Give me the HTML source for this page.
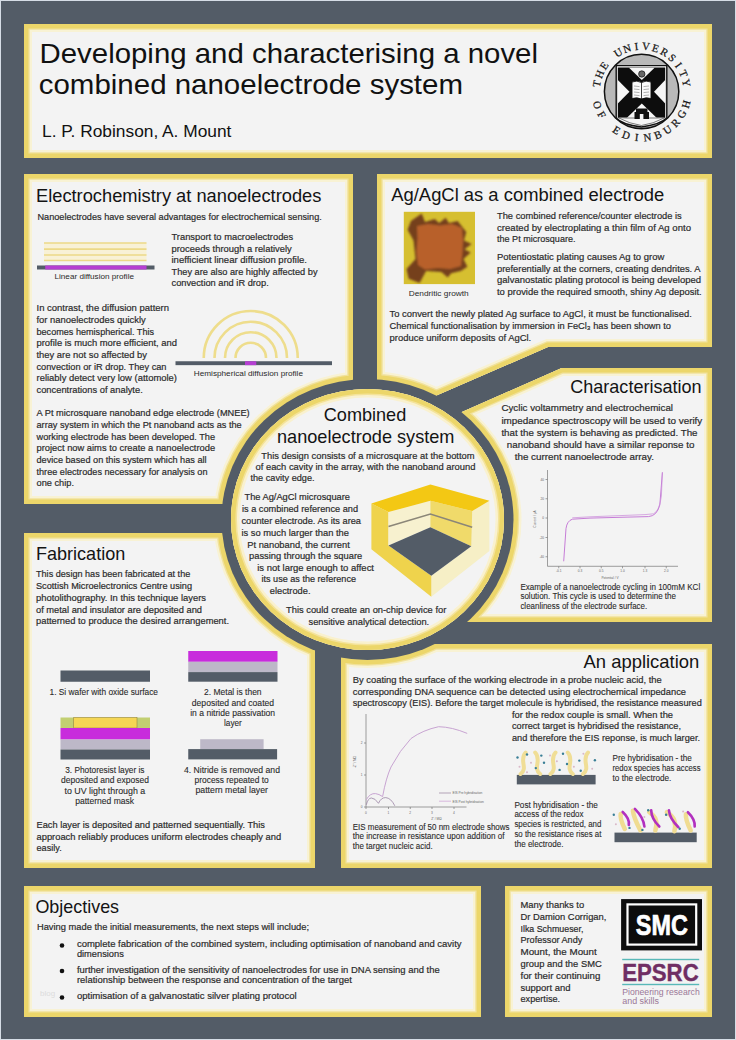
<!DOCTYPE html>
<html><head><meta charset="utf-8">
<style>
html,body{margin:0;padding:0;}
body{width:736px;height:1040px;position:relative;overflow:hidden;background:#535c67;font-family:"Liberation Sans",sans-serif;}
</style></head><body>
<svg width="736" height="1040" viewBox="0 0 736 1040" style="position:absolute;left:0;top:0">
<defs>
<mask id="em"><rect x="0" y="0" width="736" height="1040" fill="#fff"/><ellipse cx="367.5" cy="519.5" rx="146.0" ry="140.5" fill="#000"/></mask>
<clipPath id="c_title"><path d="M24,24 L712,24 L712,158 L24,158 Z"/></clipPath>
<clipPath id="c_elec"><path d="M24,174 L353,174 L353,504 L24,504 Z"/></clipPath>
<clipPath id="c_ag"><path d="M377,174 L712,174 L712,347 L548,347 L410,407 L377,407 Z"/></clipPath>
<clipPath id="c_char"><path d="M561.7,368 L712,368 L712,622 L440,622 L440,417.3 L450,417.3 Z"/></clipPath>
<clipPath id="c_fab"><path d="M24,533 L315,533 L315,868 L24,868 Z"/></clipPath>
<clipPath id="c_app"><path d="M341,644 L712,644 L712,868 L341,868 Z"/></clipPath>
<clipPath id="c_obj"><path d="M24,886 L481,886 L481,1017 L24,1017 Z"/></clipPath>
<clipPath id="c_thx"><path d="M505,886 L712,886 L712,1017 L505,1017 Z"/></clipPath>
<clipPath id="c_circ"><ellipse cx="367.5" cy="519.5" rx="136.5" ry="130.5"/></clipPath>
</defs>
<rect x="0" y="0" width="736" height="1040" fill="#d6dde6"/>
<rect x="1" y="1" width="734" height="1038" fill="#535c67"/>
<g mask="url(#em)"><g clip-path="url(#c_title)"><path d="M24,24 L712,24 L712,158 L24,158 Z M221.5,519.5 A146.0,140.5 0 1,0 513.5,519.5 A146.0,140.5 0 1,0 221.5,519.5 Z" fill-rule="evenodd" fill="#f3f3f3" stroke="#f8f2d4" stroke-width="16"/><path d="M24,24 L712,24 L712,158 L24,158 Z M221.5,519.5 A146.0,140.5 0 1,0 513.5,519.5 A146.0,140.5 0 1,0 221.5,519.5 Z" fill-rule="evenodd" fill="none" stroke="#f1e29c" stroke-width="11.5"/><path d="M24,24 L712,24 L712,158 L24,158 Z M221.5,519.5 A146.0,140.5 0 1,0 513.5,519.5 A146.0,140.5 0 1,0 221.5,519.5 Z" fill-rule="evenodd" fill="none" stroke="#ecd66a" stroke-width="8.8"/></g></g>
<g mask="url(#em)"><g clip-path="url(#c_elec)"><path d="M24,174 L353,174 L353,504 L24,504 Z M221.5,519.5 A146.0,140.5 0 1,0 513.5,519.5 A146.0,140.5 0 1,0 221.5,519.5 Z" fill-rule="evenodd" fill="#f3f3f3" stroke="#f8f2d4" stroke-width="16"/><path d="M24,174 L353,174 L353,504 L24,504 Z M221.5,519.5 A146.0,140.5 0 1,0 513.5,519.5 A146.0,140.5 0 1,0 221.5,519.5 Z" fill-rule="evenodd" fill="none" stroke="#f1e29c" stroke-width="11.5"/><path d="M24,174 L353,174 L353,504 L24,504 Z M221.5,519.5 A146.0,140.5 0 1,0 513.5,519.5 A146.0,140.5 0 1,0 221.5,519.5 Z" fill-rule="evenodd" fill="none" stroke="#ecd66a" stroke-width="8.8"/></g></g>
<g mask="url(#em)"><g clip-path="url(#c_ag)"><path d="M377,174 L712,174 L712,347 L548,347 L410,407 L377,407 Z M221.5,519.5 A146.0,140.5 0 1,0 513.5,519.5 A146.0,140.5 0 1,0 221.5,519.5 Z" fill-rule="evenodd" fill="#f3f3f3" stroke="#f8f2d4" stroke-width="16"/><path d="M377,174 L712,174 L712,347 L548,347 L410,407 L377,407 Z M221.5,519.5 A146.0,140.5 0 1,0 513.5,519.5 A146.0,140.5 0 1,0 221.5,519.5 Z" fill-rule="evenodd" fill="none" stroke="#f1e29c" stroke-width="11.5"/><path d="M377,174 L712,174 L712,347 L548,347 L410,407 L377,407 Z M221.5,519.5 A146.0,140.5 0 1,0 513.5,519.5 A146.0,140.5 0 1,0 221.5,519.5 Z" fill-rule="evenodd" fill="none" stroke="#ecd66a" stroke-width="8.8"/></g></g>
<g mask="url(#em)"><g clip-path="url(#c_char)"><path d="M561.7,368 L712,368 L712,622 L440,622 L440,417.3 L450,417.3 Z M221.5,519.5 A146.0,140.5 0 1,0 513.5,519.5 A146.0,140.5 0 1,0 221.5,519.5 Z" fill-rule="evenodd" fill="#f3f3f3" stroke="#f8f2d4" stroke-width="16"/><path d="M561.7,368 L712,368 L712,622 L440,622 L440,417.3 L450,417.3 Z M221.5,519.5 A146.0,140.5 0 1,0 513.5,519.5 A146.0,140.5 0 1,0 221.5,519.5 Z" fill-rule="evenodd" fill="none" stroke="#f1e29c" stroke-width="11.5"/><path d="M561.7,368 L712,368 L712,622 L440,622 L440,417.3 L450,417.3 Z M221.5,519.5 A146.0,140.5 0 1,0 513.5,519.5 A146.0,140.5 0 1,0 221.5,519.5 Z" fill-rule="evenodd" fill="none" stroke="#ecd66a" stroke-width="8.8"/></g></g>
<g mask="url(#em)"><g clip-path="url(#c_fab)"><path d="M24,533 L315,533 L315,868 L24,868 Z M221.5,519.5 A146.0,140.5 0 1,0 513.5,519.5 A146.0,140.5 0 1,0 221.5,519.5 Z" fill-rule="evenodd" fill="#f3f3f3" stroke="#f8f2d4" stroke-width="16"/><path d="M24,533 L315,533 L315,868 L24,868 Z M221.5,519.5 A146.0,140.5 0 1,0 513.5,519.5 A146.0,140.5 0 1,0 221.5,519.5 Z" fill-rule="evenodd" fill="none" stroke="#f1e29c" stroke-width="11.5"/><path d="M24,533 L315,533 L315,868 L24,868 Z M221.5,519.5 A146.0,140.5 0 1,0 513.5,519.5 A146.0,140.5 0 1,0 221.5,519.5 Z" fill-rule="evenodd" fill="none" stroke="#ecd66a" stroke-width="8.8"/></g></g>
<g mask="url(#em)"><g clip-path="url(#c_app)"><path d="M341,644 L712,644 L712,868 L341,868 Z M221.5,519.5 A146.0,140.5 0 1,0 513.5,519.5 A146.0,140.5 0 1,0 221.5,519.5 Z" fill-rule="evenodd" fill="#f3f3f3" stroke="#f8f2d4" stroke-width="16"/><path d="M341,644 L712,644 L712,868 L341,868 Z M221.5,519.5 A146.0,140.5 0 1,0 513.5,519.5 A146.0,140.5 0 1,0 221.5,519.5 Z" fill-rule="evenodd" fill="none" stroke="#f1e29c" stroke-width="11.5"/><path d="M341,644 L712,644 L712,868 L341,868 Z M221.5,519.5 A146.0,140.5 0 1,0 513.5,519.5 A146.0,140.5 0 1,0 221.5,519.5 Z" fill-rule="evenodd" fill="none" stroke="#ecd66a" stroke-width="8.8"/></g></g>
<g mask="url(#em)"><g clip-path="url(#c_obj)"><path d="M24,886 L481,886 L481,1017 L24,1017 Z M221.5,519.5 A146.0,140.5 0 1,0 513.5,519.5 A146.0,140.5 0 1,0 221.5,519.5 Z" fill-rule="evenodd" fill="#f3f3f3" stroke="#f8f2d4" stroke-width="16"/><path d="M24,886 L481,886 L481,1017 L24,1017 Z M221.5,519.5 A146.0,140.5 0 1,0 513.5,519.5 A146.0,140.5 0 1,0 221.5,519.5 Z" fill-rule="evenodd" fill="none" stroke="#f1e29c" stroke-width="11.5"/><path d="M24,886 L481,886 L481,1017 L24,1017 Z M221.5,519.5 A146.0,140.5 0 1,0 513.5,519.5 A146.0,140.5 0 1,0 221.5,519.5 Z" fill-rule="evenodd" fill="none" stroke="#ecd66a" stroke-width="8.8"/></g></g>
<g mask="url(#em)"><g clip-path="url(#c_thx)"><path d="M505,886 L712,886 L712,1017 L505,1017 Z M221.5,519.5 A146.0,140.5 0 1,0 513.5,519.5 A146.0,140.5 0 1,0 221.5,519.5 Z" fill-rule="evenodd" fill="#f3f3f3" stroke="#f8f2d4" stroke-width="16"/><path d="M505,886 L712,886 L712,1017 L505,1017 Z M221.5,519.5 A146.0,140.5 0 1,0 513.5,519.5 A146.0,140.5 0 1,0 221.5,519.5 Z" fill-rule="evenodd" fill="none" stroke="#f1e29c" stroke-width="11.5"/><path d="M505,886 L712,886 L712,1017 L505,1017 Z M221.5,519.5 A146.0,140.5 0 1,0 513.5,519.5 A146.0,140.5 0 1,0 221.5,519.5 Z" fill-rule="evenodd" fill="none" stroke="#ecd66a" stroke-width="8.8"/></g></g>
<g clip-path="url(#c_circ)"><ellipse cx="367.5" cy="519.5" rx="136.5" ry="130.5" fill="#f3f3f3" stroke="#f9f1cf" stroke-width="17"/><ellipse cx="367.5" cy="519.5" rx="136.5" ry="130.5" fill="none" stroke="#f4e39a" stroke-width="12"/><ellipse cx="367.5" cy="519.5" rx="136.5" ry="130.5" fill="none" stroke="#ecd66a" stroke-width="8.8"/></g>
<rect x="44" y="243" width="102.5" height="17.5" fill="#f8f1d6"/>
<line x1="44" y1="243" x2="146.5" y2="243" stroke="#ecd987" stroke-width="1.7"/>
<line x1="44" y1="249.2" x2="146.5" y2="249.2" stroke="#ecd987" stroke-width="1.7"/>
<line x1="44" y1="255" x2="146.5" y2="255" stroke="#ecd987" stroke-width="1.7"/>
<line x1="44" y1="260.5" x2="146.5" y2="260.5" stroke="#ecd987" stroke-width="1.7"/>
<rect x="37" y="265.5" width="117.5" height="4" fill="#535c67"/>
<rect x="45.25" y="265.5" width="101.25" height="4" fill="#b53fd2"/>
<path d="M203.75,358 A47,47 0 0,1 297.75,358" fill="none" stroke="#eedd8c" stroke-width="2.6"/>
<path d="M214.5,358 A36.25,36.25 0 0,1 287.0,358" fill="none" stroke="#eedd8c" stroke-width="2.6"/>
<path d="M225.0,358 A25.75,25.75 0 0,1 276.5,358" fill="none" stroke="#eedd8c" stroke-width="2.6"/>
<path d="M235.5,358 A15.25,15.25 0 0,1 266.0,358" fill="none" stroke="#eedd8c" stroke-width="2.6"/>
<rect x="175.5" y="361.25" width="156.5" height="3.9" fill="#535c67"/>
<rect x="245" y="361.25" width="11.25" height="3.9" fill="#b53fd2"/>
<defs><filter id="bl" x="-5%" y="-5%" width="110%" height="110%"><feGaussianBlur stdDeviation="0.9"/></filter><clipPath id="dimg"><rect x="403.8" y="211.8" width="71.2" height="72.3"/></clipPath></defs>
<rect x="403.8" y="211.8" width="71.2" height="72.3" fill="#d6bf30"/>
<g clip-path="url(#dimg)"><g filter="url(#bl)">
<polygon points="410.9,221 421.7,213.4 425,222 434.8,219 439.1,223 445.7,217.8 448.9,223 457.6,221 466.3,231.9 464,240.6 471.7,243.9 464.5,249.3 470.7,252.6 463.5,259.1 467.4,266.7 460.9,271 451.1,273.2 447.8,277.6 441.3,272.1 426.1,271 419.6,283 408.7,278.7 406.5,268.9 415.5,259.1 413.5,240.6 407.6,229.7" fill="#74401e"/>
<polygon points="417,226 428,224 440,225.5 452,224 462,228 463,240 462.5,252 461,266 450,269 438,268 425,269.5 418,265 416.5,252 417.5,238" fill="#b8602c"/>
</g></g>
<g stroke="#777" stroke-width="0.7" fill="none">
<line x1="547.5" y1="470" x2="547.5" y2="566.3"/><line x1="547.5" y1="566.3" x2="678" y2="566.3"/>
<line x1="545.5" y1="479.5" x2="547.5" y2="479.5"/>
<line x1="545.5" y1="498.75" x2="547.5" y2="498.75"/>
<line x1="545.5" y1="518" x2="547.5" y2="518"/>
<line x1="545.5" y1="537.5" x2="547.5" y2="537.5"/>
<line x1="545.5" y1="556.75" x2="547.5" y2="556.75"/>
<line x1="558.75" y1="566.3" x2="558.75" y2="568.3"/>
<line x1="580" y1="566.3" x2="580" y2="568.3"/>
<line x1="601.25" y1="566.3" x2="601.25" y2="568.3"/>
<line x1="622.5" y1="566.3" x2="622.5" y2="568.3"/>
<line x1="645" y1="566.3" x2="645" y2="568.3"/>
<line x1="666.25" y1="566.3" x2="666.25" y2="568.3"/>
</g>
<g font-family="Liberation Sans" font-size="3.2" fill="#666">
<text x="544" y="480.5" text-anchor="end">40</text>
<text x="544" y="499.75" text-anchor="end">20</text>
<text x="544" y="519" text-anchor="end">0</text>
<text x="544" y="538.5" text-anchor="end">-20</text>
<text x="544" y="557.75" text-anchor="end">-40</text>
<text x="558.75" y="572" text-anchor="middle">-0.1</text>
<text x="580" y="572" text-anchor="middle">0.3</text>
<text x="601.25" y="572" text-anchor="middle">0.5</text>
<text x="622.5" y="572" text-anchor="middle">1.0</text>
<text x="645" y="572" text-anchor="middle">1.3</text>
<text x="666.25" y="572" text-anchor="middle">2.0</text>
<text x="610" y="579" text-anchor="middle">Potential / V</text>
<text transform="translate(536,519) rotate(-90)" text-anchor="middle">Current / µA</text>
</g>
<path d="M563.7,561.3 L566,528.5 Q567,521 572.3,519.2 L590,518.1 L620,517.3 L648.5,516.6 Q657,516 659.8,505 L662.4,472.3" fill="none" stroke="#c16fd4" stroke-width="0.9"/>
<path d="M662.4,472.3 L661.4,496 Q659.5,511 653.5,513.8 L645,514.6 L620,515.6 L590,516.8 L572.3,517.8" fill="none" stroke="#c98ad8" stroke-width="0.7"/>
<polygon points="472.2,511.1 489.4,500.7 489.4,551 431.3,596.7 431.3,575.8 471.3,546.3" fill="#f6efc6"/>
<polygon points="371.4,503.5 388.5,512.1 388.5,545.4 431.3,575.8 431.3,596.7 371.4,549.2" fill="#efd34c"/>
<polygon points="388.5,512.1 430.4,500.7 430.4,527.3 388.5,545.4" fill="#f7f1cf"/>
<polygon points="430.4,500.7 472.2,511.1 471.3,546.3 430.4,527.3" fill="#f0da6a"/>
<polygon points="388.5,545.4 430.4,527.3 471.3,546.3 431.3,575.8" fill="#535c67"/>
<polygon points="371.4,503.5 430.4,484.5 489.4,500.7 472.2,511.1 430.4,500.7 388.5,512.1" fill="#f3c814"/>
<polyline points="388.5,526.4 430.4,514 472.2,527.3" fill="none" stroke="#8b8678" stroke-width="1.6"/>
<rect x="60.5" y="670.5" width="89.5" height="11.25" fill="#535c67"/>
<rect x="188.25" y="651" width="89.25" height="10.8" fill="#c82cdc"/>
<rect x="188.25" y="661.8" width="89.25" height="10.3" fill="#bdb8c8"/>
<rect x="188.25" y="672.1" width="89.25" height="9.6" fill="#535c67"/>
<rect x="60.5" y="717.5" width="89.5" height="10.5" fill="#c2cf72"/>
<rect x="73.75" y="717.5" width="63.25" height="10.5" fill="#f5d655" stroke="#8a7a3a" stroke-width="0.5"/>
<rect x="60.5" y="728" width="89.5" height="11.5" fill="#c82cdc"/>
<rect x="60.5" y="739.5" width="89.5" height="10" fill="#bdb8c8"/>
<rect x="60.5" y="749.5" width="89.5" height="10" fill="#535c67"/>
<rect x="200.2" y="739.2" width="63.4" height="9.9" fill="#bdb8c8"/>
<rect x="188.25" y="749.1" width="88.85" height="10.3" fill="#535c67"/>
<g stroke="#777" stroke-width="0.7" fill="none">
<line x1="366" y1="714" x2="366" y2="807"/><line x1="366" y1="807" x2="466.5" y2="807"/>
<line x1="364" y1="743" x2="366" y2="743"/>
<line x1="364" y1="775" x2="366" y2="775"/>
<line x1="364" y1="807" x2="366" y2="807"/>
<line x1="366" y1="807" x2="366" y2="809"/>
<line x1="388.5" y1="807" x2="388.5" y2="809"/>
<line x1="410.25" y1="807" x2="410.25" y2="809"/>
<line x1="432" y1="807" x2="432" y2="809"/>
<line x1="454" y1="807" x2="454" y2="809"/>
</g>
<g font-family="Liberation Sans" font-size="3.2" fill="#666">
<text x="362.5" y="744" text-anchor="end">2</text>
<text x="362.5" y="776" text-anchor="end">1</text>
<text x="362.5" y="808" text-anchor="end">0</text>
<text x="366" y="813.5" text-anchor="middle">0</text>
<text x="388.5" y="813.5" text-anchor="middle">1</text>
<text x="410.25" y="813.5" text-anchor="middle">2</text>
<text x="432" y="813.5" text-anchor="middle">3</text>
<text x="454" y="813.5" text-anchor="middle">4</text>
<text x="436.5" y="820" text-anchor="middle">Z' / MΩ</text>
<text transform="translate(356,762) rotate(-90)" text-anchor="middle">-Z'' / MΩ</text>
<text x="452.5" y="794.3">EIS Pre hybridisation</text>
<text x="452.5" y="802.5">EIS Post hybridisation</text>
</g>
<line x1="439" y1="793" x2="451" y2="793" stroke="#8a7090" stroke-width="0.6"/>
<line x1="439" y1="801.2" x2="451" y2="801.2" stroke="#d0a8d8" stroke-width="0.8"/>
<path d="M366.3,799.7 Q370,793 375.5,793.6 Q379,794 382.6,796.6 Q386,778 391,767 Q400,750 411,738.5 Q423,730 438.6,726.7 Q452,727 467.2,733.4" fill="none" stroke="#c8a4d2" stroke-width="1"/>
<path d="M366.3,804.8 Q368,798 371.4,798 Q375,798 378.5,803.3 Q381,797.5 385.7,797.6 Q391,798 394.8,805.8" fill="none" stroke="#9a84a4" stroke-width="0.8"/>
<rect x="516.8" y="774.9" width="78.8" height="9.5" fill="#535c67"/>
<rect x="614.5" y="832.6" width="82.2" height="9.6" fill="#535c67"/>
<path d="M520.6,774 C528.6,768 518.6,760 525.6,752.5" fill="none" stroke="#f0de96" stroke-width="4" stroke-linecap="round"/>
<path d="M540.2,774 C532.2,768 542.2,760 535.2,752.5" fill="none" stroke="#f0de96" stroke-width="4" stroke-linecap="round"/>
<path d="M550.5,774 C558.5,768 548.5,760 555.5,752.5" fill="none" stroke="#f0de96" stroke-width="4" stroke-linecap="round"/>
<path d="M572.8,774 C564.8,768 574.8,760 567.8,752.5" fill="none" stroke="#f0de96" stroke-width="4" stroke-linecap="round"/>
<path d="M583,774 C591,768 581,760 588,752.5" fill="none" stroke="#f0de96" stroke-width="4" stroke-linecap="round"/>
<circle cx="517.5" cy="757.5" r="1.2" fill="#3a7f96"/>
<circle cx="527" cy="754.5" r="1.2" fill="#3a7f96"/>
<circle cx="541.3" cy="755.6" r="1.2" fill="#3a7f96"/>
<circle cx="544" cy="762.7" r="1.2" fill="#3a7f96"/>
<circle cx="535.8" cy="768.1" r="1.2" fill="#3a7f96"/>
<circle cx="563" cy="753.8" r="1.2" fill="#3a7f96"/>
<circle cx="567" cy="764" r="1.2" fill="#3a7f96"/>
<circle cx="559.6" cy="769.9" r="1.2" fill="#3a7f96"/>
<circle cx="579.3" cy="760.6" r="1.2" fill="#3a7f96"/>
<circle cx="580.7" cy="770.8" r="1.2" fill="#3a7f96"/>
<circle cx="594.9" cy="760.2" r="1.2" fill="#3a7f96"/>
<circle cx="550" cy="755.6" r="1" fill="#d9b8c8"/>
<circle cx="556.9" cy="761.3" r="1" fill="#d9b8c8"/>
<circle cx="531" cy="762.7" r="1" fill="#d9b8c8"/>
<circle cx="583.4" cy="753.8" r="1" fill="#d9b8c8"/>
<circle cx="592.2" cy="768.8" r="1" fill="#d9b8c8"/>
<circle cx="519.5" cy="766.7" r="1" fill="#d9b8c8"/>
<circle cx="527" cy="772.2" r="1" fill="#d9b8c8"/>
<circle cx="573.9" cy="766.7" r="1" fill="#d9b8c8"/>
<path d="M620.7,814 Q619.75,818.5 624.8,829" fill="none" stroke="#f0dc92" stroke-width="4.5" stroke-linecap="round"/>
<path d="M622.7,812 Q629.75,818.5 628.8,825" fill="none" stroke="#b230bf" stroke-width="2.6" stroke-linecap="round"/>
<path d="M632.9,810.8 Q633.65,817.65 640.4,830.5" fill="none" stroke="#f0dc92" stroke-width="4.5" stroke-linecap="round"/>
<path d="M634.9,808.8 Q643.65,817.65 644.4,826.5" fill="none" stroke="#b230bf" stroke-width="2.6" stroke-linecap="round"/>
<path d="M649.2,812.2 Q659.25,818.35 655.3,830.5" fill="none" stroke="#f0dc92" stroke-width="4.5" stroke-linecap="round"/>
<path d="M651.2,810.2 Q651.25,818.35 659.3,826.5" fill="none" stroke="#b230bf" stroke-width="2.6" stroke-linecap="round"/>
<path d="M666.9,812.2 Q677.65,818.7 674.4,831.2" fill="none" stroke="#f0dc92" stroke-width="4.5" stroke-linecap="round"/>
<path d="M668.9,810.2 Q669.65,818.7 678.4,827.2" fill="none" stroke="#b230bf" stroke-width="2.6" stroke-linecap="round"/>
<path d="M685.9,814.2 Q685.3,819.35 690.7,830.5" fill="none" stroke="#f0dc92" stroke-width="4.5" stroke-linecap="round"/>
<path d="M687.9,812.2 Q695.3,819.35 694.7,826.5" fill="none" stroke="#b230bf" stroke-width="2.6" stroke-linecap="round"/>
<circle cx="613.8" cy="814.7" r="1.2" fill="#3a7f96"/>
<circle cx="629.5" cy="827.9" r="1.2" fill="#3a7f96"/>
<circle cx="642.4" cy="829.9" r="1.2" fill="#3a7f96"/>
<circle cx="648.2" cy="810.2" r="1.2" fill="#3a7f96"/>
<circle cx="666.1" cy="814.7" r="1.2" fill="#3a7f96"/>
<circle cx="679.7" cy="828.8" r="1.2" fill="#3a7f96"/>
<circle cx="615.9" cy="824.2" r="1" fill="#d9b8c8"/>
<circle cx="644.4" cy="817" r="1" fill="#d9b8c8"/>
<circle cx="683.1" cy="811.5" r="1" fill="#d9b8c8"/>
<circle cx="62" cy="945.5" r="2.3" fill="#111"/>
<circle cx="62" cy="971" r="2.3" fill="#111"/>
<circle cx="62" cy="997.5" r="2.3" fill="#111"/>
<rect x="621.1" y="899.1" width="80.9" height="51.3" fill="#0c0c0c"/>
<rect x="627.5" y="904.4" width="68.7" height="40.2" fill="none" stroke="#fff" stroke-width="2.2"/>
<text x="661.8" y="935.1" text-anchor="middle" font-family="Liberation Sans" font-weight="bold" font-size="30" fill="#fff" stroke="#fff" stroke-width="0.7" textLength="52" lengthAdjust="spacingAndGlyphs">SMC</text>
<rect x="622.2" y="958.8" width="77" height="1.4" fill="#58b8b8"/>
<rect x="622.2" y="983.8" width="77" height="1.4" fill="#58b8b8"/>
<text x="622.2" y="980.8" font-family="Liberation Sans" font-weight="bold" font-size="23.5" fill="#6f2e63" stroke="#6f2e63" stroke-width="0.4" textLength="76.5" lengthAdjust="spacingAndGlyphs">EPSRC</text>
<text x="622.2" y="994.7" font-family="Liberation Sans" font-size="9.6" fill="#9b7898" textLength="77.6" lengthAdjust="spacingAndGlyphs">Pioneering research</text>
<text x="622.2" y="1003.9" font-family="Liberation Sans" font-size="9.6" fill="#9b7898" textLength="36.8" lengthAdjust="spacingAndGlyphs">and skills</text>
<circle cx="641.6" cy="91.5" r="37.2" fill="#b9b9b9" stroke="#111" stroke-width="1.5"/>
<path d="M616.2,65.6 L666.8,65.6 L666.8,118 Q660,124.5 641.4,127 Q622,124.5 616.2,118 Z" fill="#fbfbfb" stroke="#111" stroke-width="1.4"/>
<path d="M617.8,67.6 L665.2,67.6 L665.2,117.5 L617.8,117.5 Z" fill="#0d0d0d"/>
<polygon points="629,67.8 654.6,67.8 641.8,80.1" fill="#f6f6f6"/>
<polygon points="617.8,80.1 617.8,103.5 629.5,91.8" fill="#f6f6f6"/>
<polygon points="665.2,80.1 665.2,103.5 654,91.8" fill="#f6f6f6"/>
<polygon points="626.7,118 656.8,118 641.8,103.5" fill="#f6f6f6"/>
<path d="M617.8,117.5 Q630,124 641.4,125.5 Q653,124 665.2,117.5 L656.8,118 L626.7,118 Z" fill="#f6f6f6" stroke="#222" stroke-width="0.6"/>
<circle cx="641.8" cy="74" r="3.2" fill="#666" stroke="#111" stroke-width="0.7"/>
<path d="M632,82 Q637,80 641.5,82.5 Q646,80 651,82 L651,98.5 Q646,97 641.5,99 Q637,97 632,98.5 Z" fill="#fafafa" stroke="#111" stroke-width="0.9"/>
<line x1="641.5" y1="82.5" x2="641.5" y2="99" stroke="#111" stroke-width="0.8"/>
<line x1="634" y1="86" x2="639.5" y2="86.6" stroke="#666" stroke-width="0.5"/><line x1="643.5" y1="86.6" x2="649" y2="86" stroke="#666" stroke-width="0.5"/>
<line x1="634" y1="89" x2="639.5" y2="89.6" stroke="#666" stroke-width="0.5"/><line x1="643.5" y1="89.6" x2="649" y2="89" stroke="#666" stroke-width="0.5"/>
<line x1="634" y1="92" x2="639.5" y2="92.6" stroke="#666" stroke-width="0.5"/><line x1="643.5" y1="92.6" x2="649" y2="92" stroke="#666" stroke-width="0.5"/>
<line x1="634" y1="95" x2="639.5" y2="95.6" stroke="#666" stroke-width="0.5"/><line x1="643.5" y1="95.6" x2="649" y2="95" stroke="#666" stroke-width="0.5"/>
<path d="M634.5,119 L634.5,112 L636,112 L636,108.5 L647.5,108.5 L647.5,112 L649,112 L649,119 Z" fill="#111"/>
<rect x="639.8" y="114" width="3.6" height="5" fill="#f6f6f6"/>
<g font-family="Liberation Serif" font-size="10.8" fill="#151515" stroke="#151515" stroke-width="0.25">
<text x="0" y="0" transform="translate(596.50,83.55) rotate(-80.0)" text-anchor="middle" dominant-baseline="central">T</text>
<text x="0" y="0" transform="translate(599.20,74.17) rotate(-67.8)" text-anchor="middle" dominant-baseline="central">H</text>
<text x="0" y="0" transform="translate(603.84,65.58) rotate(-55.5)" text-anchor="middle" dominant-baseline="central">E</text>
<text x="0" y="0" transform="translate(617.96,52.27) rotate(-31.1)" text-anchor="middle" dominant-baseline="central">U</text>
<text x="0" y="0" transform="translate(626.81,48.16) rotate(-18.8)" text-anchor="middle" dominant-baseline="central">N</text>
<text x="0" y="0" transform="translate(636.32,46.00) rotate(-6.6)" text-anchor="middle" dominant-baseline="central">I</text>
<text x="0" y="0" transform="translate(646.08,45.92) rotate(5.6)" text-anchor="middle" dominant-baseline="central">V</text>
<text x="0" y="0" transform="translate(655.64,47.90) rotate(17.8)" text-anchor="middle" dominant-baseline="central">E</text>
<text x="0" y="0" transform="translate(664.55,51.87) rotate(30.1)" text-anchor="middle" dominant-baseline="central">R</text>
<text x="0" y="0" transform="translate(672.43,57.63) rotate(42.3)" text-anchor="middle" dominant-baseline="central">S</text>
<text x="0" y="0" transform="translate(678.90,64.93) rotate(54.5)" text-anchor="middle" dominant-baseline="central">I</text>
<text x="0" y="0" transform="translate(683.69,73.43) rotate(66.8)" text-anchor="middle" dominant-baseline="central">T</text>
<text x="0" y="0" transform="translate(686.56,82.76) rotate(79.0)" text-anchor="middle" dominant-baseline="central">Y</text>
<text x="0" y="0" transform="translate(597.80,104.89) rotate(433.0)" text-anchor="middle" dominant-baseline="central">O</text>
<text x="0" y="0" transform="translate(602.08,114.65) rotate(419.6)" text-anchor="middle" dominant-baseline="central">F</text>
<text x="0" y="0" transform="translate(616.72,129.95) rotate(392.9)" text-anchor="middle" dominant-baseline="central">E</text>
<text x="0" y="0" transform="translate(626.28,134.66) rotate(379.5)" text-anchor="middle" dominant-baseline="central">D</text>
<text x="0" y="0" transform="translate(636.67,137.03) rotate(366.2)" text-anchor="middle" dominant-baseline="central">I</text>
<text x="0" y="0" transform="translate(647.33,136.94) rotate(352.8)" text-anchor="middle" dominant-baseline="central">N</text>
<text x="0" y="0" transform="translate(657.67,134.39) rotate(339.5)" text-anchor="middle" dominant-baseline="central">B</text>
<text x="0" y="0" transform="translate(667.15,129.51) rotate(326.1)" text-anchor="middle" dominant-baseline="central">U</text>
<text x="0" y="0" transform="translate(675.24,122.58) rotate(312.7)" text-anchor="middle" dominant-baseline="central">R</text>
<text x="0" y="0" transform="translate(681.52,113.96) rotate(299.4)" text-anchor="middle" dominant-baseline="central">G</text>
<text x="0" y="0" transform="translate(685.63,104.12) rotate(286.0)" text-anchor="middle" dominant-baseline="central">H</text>
</g>
<g font-family="Liberation Sans">
<text x="39.5" y="63.25" font-size="28" fill="#111" textLength="498.50" lengthAdjust="spacingAndGlyphs">Developing and characterising a novel</text>
<text x="38.75" y="93.75" font-size="28" fill="#111" textLength="424.25" lengthAdjust="spacingAndGlyphs">combined nanoelectrode system</text>
<text x="42" y="137" font-size="16" fill="#111" textLength="189.40" lengthAdjust="spacingAndGlyphs">L. P. Robinson, A. Mount</text>
<text x="36" y="201.75" font-size="18.3" fill="#141414" textLength="285.40" lengthAdjust="spacingAndGlyphs">Electrochemistry at nanoelectrodes</text>
<text x="37.5" y="220.2" font-size="9.9" fill="#2a2a2a" stroke="#2a2a2a" stroke-width="0.2" textLength="284.30" lengthAdjust="spacingAndGlyphs">Nanoelectrodes have several advantages for electrochemical sensing.</text>
<text x="171.5" y="240" font-size="9.9" fill="#2a2a2a" stroke="#2a2a2a" stroke-width="0.2" textLength="121.75" lengthAdjust="spacingAndGlyphs">Transport to macroelectrodes</text>
<text x="171.5" y="251.75" font-size="9.9" fill="#2a2a2a" stroke="#2a2a2a" stroke-width="0.2" textLength="120.25" lengthAdjust="spacingAndGlyphs">proceeds through a relatively</text>
<text x="171.5" y="263.25" font-size="9.9" fill="#2a2a2a" stroke="#2a2a2a" stroke-width="0.2" textLength="135.50" lengthAdjust="spacingAndGlyphs">inefficient linear diffusion profile.</text>
<text x="171.5" y="275" font-size="9.9" fill="#2a2a2a" stroke="#2a2a2a" stroke-width="0.2" textLength="146.00" lengthAdjust="spacingAndGlyphs">They are also are highly affected by</text>
<text x="171.5" y="286.25" font-size="9.9" fill="#2a2a2a" stroke="#2a2a2a" stroke-width="0.2" textLength="97.25" lengthAdjust="spacingAndGlyphs">convection and iR drop.</text>
<text x="36.5" y="311.25" font-size="9.9" fill="#2a2a2a" stroke="#2a2a2a" stroke-width="0.2" textLength="132.50" lengthAdjust="spacingAndGlyphs">In contrast, the diffusion pattern</text>
<text x="36.5" y="323" font-size="9.9" fill="#2a2a2a" stroke="#2a2a2a" stroke-width="0.2" textLength="109.25" lengthAdjust="spacingAndGlyphs">for nanoelectrodes quickly</text>
<text x="36.5" y="334.5" font-size="9.9" fill="#2a2a2a" stroke="#2a2a2a" stroke-width="0.2" textLength="117.50" lengthAdjust="spacingAndGlyphs">becomes hemispherical. This</text>
<text x="36.5" y="346.25" font-size="9.9" fill="#2a2a2a" stroke="#2a2a2a" stroke-width="0.2" textLength="140.50" lengthAdjust="spacingAndGlyphs">profile is much more efficient, and</text>
<text x="36.5" y="358" font-size="9.9" fill="#2a2a2a" stroke="#2a2a2a" stroke-width="0.2" textLength="110.50" lengthAdjust="spacingAndGlyphs">they are not so affected by</text>
<text x="36.5" y="369.5" font-size="9.9" fill="#2a2a2a" stroke="#2a2a2a" stroke-width="0.2" textLength="130.00" lengthAdjust="spacingAndGlyphs">convection or iR drop. They can</text>
<text x="36.5" y="381.25" font-size="9.9" fill="#2a2a2a" stroke="#2a2a2a" stroke-width="0.2" textLength="140.50" lengthAdjust="spacingAndGlyphs">reliably detect very low (attomole)</text>
<text x="36.5" y="393" font-size="9.9" fill="#2a2a2a" stroke="#2a2a2a" stroke-width="0.2" textLength="106.25" lengthAdjust="spacingAndGlyphs">concentrations of analyte.</text>
<text x="54.5" y="279.25" font-size="7.6" fill="#2a2a2a" textLength="79.50" lengthAdjust="spacingAndGlyphs">Linear diffusion profile</text>
<text x="193.75" y="375.5" font-size="7.6" fill="#2a2a2a" textLength="109.25" lengthAdjust="spacingAndGlyphs">Hemispherical diffusion profile</text>
<text x="36.5" y="416.25" font-size="9.9" fill="#2a2a2a" stroke="#2a2a2a" stroke-width="0.2" textLength="213.20" lengthAdjust="spacingAndGlyphs">A Pt microsquare nanoband edge electrode (MNEE)</text>
<text x="36.5" y="428" font-size="9.9" fill="#2a2a2a" stroke="#2a2a2a" stroke-width="0.2" textLength="205.20" lengthAdjust="spacingAndGlyphs">array system in which the Pt nanoband acts as the</text>
<text x="36.5" y="439.5" font-size="9.9" fill="#2a2a2a" stroke="#2a2a2a" stroke-width="0.2" textLength="178.60" lengthAdjust="spacingAndGlyphs">working electrode has been developed. The</text>
<text x="36.5" y="451.25" font-size="9.9" fill="#2a2a2a" stroke="#2a2a2a" stroke-width="0.2" textLength="178.60" lengthAdjust="spacingAndGlyphs">project now aims to create a nanoelectrode</text>
<text x="36.5" y="463" font-size="9.9" fill="#2a2a2a" stroke="#2a2a2a" stroke-width="0.2" textLength="170.10" lengthAdjust="spacingAndGlyphs">device based on this system which has all</text>
<text x="36.5" y="474.5" font-size="9.9" fill="#2a2a2a" stroke="#2a2a2a" stroke-width="0.2" textLength="171.00" lengthAdjust="spacingAndGlyphs">three electrodes necessary for analysis on</text>
<text x="36.5" y="486.25" font-size="9.9" fill="#2a2a2a" stroke="#2a2a2a" stroke-width="0.2" textLength="37.50" lengthAdjust="spacingAndGlyphs">one chip.</text>
<text x="391.25" y="201" font-size="18.3" fill="#141414" textLength="273.00" lengthAdjust="spacingAndGlyphs">Ag/AgCl as a combined electrode</text>
<text x="408.75" y="295.5" font-size="7.8" fill="#2a2a2a" textLength="60.00" lengthAdjust="spacingAndGlyphs">Dendritic growth</text>
<text x="497" y="218.5" font-size="9.9" fill="#2a2a2a" stroke="#2a2a2a" stroke-width="0.2" textLength="184.75" lengthAdjust="spacingAndGlyphs">The combined reference/counter electrode is</text>
<text x="497" y="230.5" font-size="9.9" fill="#2a2a2a" stroke="#2a2a2a" stroke-width="0.2" textLength="194.00" lengthAdjust="spacingAndGlyphs">created by electroplating a thin film of Ag onto</text>
<text x="497" y="242.25" font-size="9.9" fill="#2a2a2a" stroke="#2a2a2a" stroke-width="0.2" textLength="78.50" lengthAdjust="spacingAndGlyphs">the Pt microsquare.</text>
<text x="497" y="259.75" font-size="9.9" fill="#2a2a2a" stroke="#2a2a2a" stroke-width="0.2" textLength="167.25" lengthAdjust="spacingAndGlyphs">Potentiostatic plating causes Ag to grow</text>
<text x="497" y="271.5" font-size="9.9" fill="#2a2a2a" stroke="#2a2a2a" stroke-width="0.2" textLength="203.50" lengthAdjust="spacingAndGlyphs">preferentially at the corners, creating dendrites. A</text>
<text x="497" y="283" font-size="9.9" fill="#2a2a2a" stroke="#2a2a2a" stroke-width="0.2" textLength="204.00" lengthAdjust="spacingAndGlyphs">galvanostatic plating protocol is being developed</text>
<text x="497" y="294.75" font-size="9.9" fill="#2a2a2a" stroke="#2a2a2a" stroke-width="0.2" textLength="204.75" lengthAdjust="spacingAndGlyphs">to provide the required smooth, shiny Ag deposit.</text>
<text x="389.5" y="317.25" font-size="9.9" fill="#2a2a2a" stroke="#2a2a2a" stroke-width="0.2" textLength="302.25" lengthAdjust="spacingAndGlyphs">To convert the newly plated Ag surface to AgCl, it must be functionalised.</text>
<text x="389.5" y="329" font-size="9.9" fill="#2a2a2a" stroke="#2a2a2a" stroke-width="0.2" textLength="281.50" lengthAdjust="spacingAndGlyphs">Chemical functionalisation by immersion in FeCl₃ has been shown to</text>
<text x="389.5" y="340.5" font-size="9.9" fill="#2a2a2a" stroke="#2a2a2a" stroke-width="0.2" textLength="141.75" lengthAdjust="spacingAndGlyphs">produce uniform deposits of AgCl.</text>
<text x="570.3" y="392.7" font-size="18.6" fill="#141414" textLength="131.20" lengthAdjust="spacingAndGlyphs">Characterisation</text>
<text x="501.4" y="411.3" font-size="9.9" fill="#2a2a2a" stroke="#2a2a2a" stroke-width="0.2" textLength="171.60" lengthAdjust="spacingAndGlyphs">Cyclic voltammetry and electrochemical</text>
<text x="501.4" y="423.6" font-size="9.9" fill="#2a2a2a" stroke="#2a2a2a" stroke-width="0.2" textLength="200.90" lengthAdjust="spacingAndGlyphs">impedance spectroscopy will be used to verify</text>
<text x="501.4" y="435.6" font-size="9.9" fill="#2a2a2a" stroke="#2a2a2a" stroke-width="0.2" textLength="196.10" lengthAdjust="spacingAndGlyphs">that the system is behaving as predicted. The</text>
<text x="506.8" y="448.0" font-size="9.9" fill="#2a2a2a" stroke="#2a2a2a" stroke-width="0.2" textLength="187.60" lengthAdjust="spacingAndGlyphs">nanoband should have a similar reponse to</text>
<text x="514.7" y="459.8" font-size="9.9" fill="#2a2a2a" stroke="#2a2a2a" stroke-width="0.2" textLength="139.30" lengthAdjust="spacingAndGlyphs">the current nanoelectrode array.</text>
<text x="520.4" y="590.1" font-size="8.3" fill="#2a2a2a" stroke="#2a2a2a" stroke-width="0.1" textLength="179.80" lengthAdjust="spacingAndGlyphs">Example of a nanoelectrode cycling in 100mM KCl</text>
<text x="520.4" y="599.1" font-size="8.3" fill="#2a2a2a" stroke="#2a2a2a" stroke-width="0.1" textLength="155.60" lengthAdjust="spacingAndGlyphs">solution. This cycle is used to determine the</text>
<text x="520.4" y="608.5" font-size="8.3" fill="#2a2a2a" stroke="#2a2a2a" stroke-width="0.1" textLength="126.80" lengthAdjust="spacingAndGlyphs">cleanliness of the electrode surface.</text>
<text x="323.75" y="420.75" font-size="18.6" fill="#141414" textLength="82.50" lengthAdjust="spacingAndGlyphs">Combined</text>
<text x="277" y="443.25" font-size="18.6" fill="#141414" textLength="177.50" lengthAdjust="spacingAndGlyphs">nanoelectrode system</text>
<text x="261.25" y="458.75" font-size="9.9" fill="#2a2a2a" stroke="#2a2a2a" stroke-width="0.2" textLength="213.25" lengthAdjust="spacingAndGlyphs">This design consists of a microsquare at the bottom</text>
<text x="255.5" y="470" font-size="9.9" fill="#2a2a2a" stroke="#2a2a2a" stroke-width="0.2" textLength="220.00" lengthAdjust="spacingAndGlyphs">of each cavity in the array, with the nanoband around</text>
<text x="250.5" y="481.25" font-size="9.9" fill="#2a2a2a" stroke="#2a2a2a" stroke-width="0.2" textLength="64.00" lengthAdjust="spacingAndGlyphs">the cavity edge.</text>
<text x="244.5" y="500" font-size="9.9" fill="#2a2a2a" stroke="#2a2a2a" stroke-width="0.2" textLength="105.50" lengthAdjust="spacingAndGlyphs">The Ag/AgCl microsquare</text>
<text x="242" y="512" font-size="9.9" fill="#2a2a2a" stroke="#2a2a2a" stroke-width="0.2" textLength="116.00" lengthAdjust="spacingAndGlyphs">is a combined reference and</text>
<text x="241.5" y="523.75" font-size="9.9" fill="#2a2a2a" stroke="#2a2a2a" stroke-width="0.2" textLength="119.50" lengthAdjust="spacingAndGlyphs">counter electrode. As its area</text>
<text x="241.5" y="535.5" font-size="9.9" fill="#2a2a2a" stroke="#2a2a2a" stroke-width="0.2" textLength="107.50" lengthAdjust="spacingAndGlyphs">is so much larger than the</text>
<text x="247.25" y="547.5" font-size="9.9" fill="#2a2a2a" stroke="#2a2a2a" stroke-width="0.2" textLength="102.50" lengthAdjust="spacingAndGlyphs">Pt nanoband, the current</text>
<text x="249" y="558.75" font-size="9.9" fill="#2a2a2a" stroke="#2a2a2a" stroke-width="0.2" textLength="113.25" lengthAdjust="spacingAndGlyphs">passing through the square</text>
<text x="257.25" y="570.5" font-size="9.9" fill="#2a2a2a" stroke="#2a2a2a" stroke-width="0.2" textLength="116.75" lengthAdjust="spacingAndGlyphs">is not large enough to affect</text>
<text x="261.5" y="582" font-size="9.9" fill="#2a2a2a" stroke="#2a2a2a" stroke-width="0.2" textLength="94.50" lengthAdjust="spacingAndGlyphs">its use as the reference</text>
<text x="269.75" y="593.75" font-size="9.9" fill="#2a2a2a" stroke="#2a2a2a" stroke-width="0.2" textLength="40.75" lengthAdjust="spacingAndGlyphs">electrode.</text>
<text x="286" y="613" font-size="9.9" fill="#2a2a2a" stroke="#2a2a2a" stroke-width="0.2" textLength="160.30" lengthAdjust="spacingAndGlyphs">This could create an on-chip device for</text>
<text x="308.5" y="625" font-size="9.9" fill="#2a2a2a" stroke="#2a2a2a" stroke-width="0.2" textLength="120.70" lengthAdjust="spacingAndGlyphs">sensitive analytical detection.</text>
<text x="36" y="560" font-size="18.6" fill="#141414" textLength="89.25" lengthAdjust="spacingAndGlyphs">Fabrication</text>
<text x="36" y="577" font-size="9.9" fill="#2a2a2a" stroke="#2a2a2a" stroke-width="0.2" textLength="154.25" lengthAdjust="spacingAndGlyphs">This design has been fabricated at the</text>
<text x="36" y="588.75" font-size="9.9" fill="#2a2a2a" stroke="#2a2a2a" stroke-width="0.2" textLength="156.00" lengthAdjust="spacingAndGlyphs">Scottish Microelectronics Centre using</text>
<text x="36" y="600.75" font-size="9.9" fill="#2a2a2a" stroke="#2a2a2a" stroke-width="0.2" textLength="170.00" lengthAdjust="spacingAndGlyphs">photolithography. In this technique layers</text>
<text x="36" y="612.5" font-size="9.9" fill="#2a2a2a" stroke="#2a2a2a" stroke-width="0.2" textLength="166.00" lengthAdjust="spacingAndGlyphs">of metal and insulator are deposited and</text>
<text x="36" y="624.25" font-size="9.9" fill="#2a2a2a" stroke="#2a2a2a" stroke-width="0.2" textLength="193.00" lengthAdjust="spacingAndGlyphs">patterned to produce the desired arrangement.</text>
<text x="49.5" y="695" font-size="8.6" fill="#2a2a2a" stroke="#2a2a2a" stroke-width="0.1" textLength="108.50" lengthAdjust="spacingAndGlyphs">1. Si wafer with oxide surface</text>
<text x="204.1" y="695.1" font-size="8.6" fill="#2a2a2a" stroke="#2a2a2a" stroke-width="0.1" textLength="57.50" lengthAdjust="spacingAndGlyphs">2. Metal is then</text>
<text x="191.8" y="705.9" font-size="8.6" fill="#2a2a2a" stroke="#2a2a2a" stroke-width="0.1" textLength="82.30" lengthAdjust="spacingAndGlyphs">deposited and coated</text>
<text x="190.2" y="716.4" font-size="8.6" fill="#2a2a2a" stroke="#2a2a2a" stroke-width="0.1" textLength="84.90" lengthAdjust="spacingAndGlyphs">in a nitride passivation</text>
<text x="224" y="726.3" font-size="8.6" fill="#2a2a2a" stroke="#2a2a2a" stroke-width="0.1" textLength="17.80" lengthAdjust="spacingAndGlyphs">layer</text>
<text x="65.25" y="773" font-size="8.6" fill="#2a2a2a" stroke="#2a2a2a" stroke-width="0.1" textLength="79.25" lengthAdjust="spacingAndGlyphs">3. Photoresist layer is</text>
<text x="61" y="783" font-size="8.6" fill="#2a2a2a" stroke="#2a2a2a" stroke-width="0.1" textLength="88.00" lengthAdjust="spacingAndGlyphs">deposited and exposed</text>
<text x="64.5" y="793.75" font-size="8.6" fill="#2a2a2a" stroke="#2a2a2a" stroke-width="0.1" textLength="80.75" lengthAdjust="spacingAndGlyphs">to UV light through a</text>
<text x="75.25" y="803.75" font-size="8.6" fill="#2a2a2a" stroke="#2a2a2a" stroke-width="0.1" textLength="58.75" lengthAdjust="spacingAndGlyphs">patterned mask</text>
<text x="183.9" y="772.9" font-size="8.6" fill="#2a2a2a" stroke="#2a2a2a" stroke-width="0.1" textLength="96.10" lengthAdjust="spacingAndGlyphs">4. Nitride is removed and</text>
<text x="194.6" y="782.8" font-size="8.6" fill="#2a2a2a" stroke="#2a2a2a" stroke-width="0.1" textLength="74.20" lengthAdjust="spacingAndGlyphs">process repeated to</text>
<text x="195.4" y="793.1" font-size="8.6" fill="#2a2a2a" stroke="#2a2a2a" stroke-width="0.1" textLength="72.60" lengthAdjust="spacingAndGlyphs">pattern metal layer</text>
<text x="36.5" y="828" font-size="9.9" fill="#2a2a2a" stroke="#2a2a2a" stroke-width="0.2" textLength="228.40" lengthAdjust="spacingAndGlyphs">Each layer is deposited and patterned sequentially. This</text>
<text x="36.5" y="839.5" font-size="9.9" fill="#2a2a2a" stroke="#2a2a2a" stroke-width="0.2" textLength="244.60" lengthAdjust="spacingAndGlyphs">approach reliably produces uniform electrodes cheaply and</text>
<text x="36.5" y="850.5" font-size="9.9" fill="#2a2a2a" stroke="#2a2a2a" stroke-width="0.2" textLength="25.20" lengthAdjust="spacingAndGlyphs">easily.</text>
<text x="583.5" y="668" font-size="18.6" fill="#141414" textLength="115.75" lengthAdjust="spacingAndGlyphs">An application</text>
<text x="352.75" y="683" font-size="9.9" fill="#2a2a2a" stroke="#2a2a2a" stroke-width="0.2" textLength="309.00" lengthAdjust="spacingAndGlyphs">By coating the surface of the working electrode in a probe nucleic acid, the</text>
<text x="352.75" y="695" font-size="9.9" fill="#2a2a2a" stroke="#2a2a2a" stroke-width="0.2" textLength="333.25" lengthAdjust="spacingAndGlyphs">corresponding DNA sequence can be detected using electrochemical impedance</text>
<text x="352.75" y="706" font-size="9.9" fill="#2a2a2a" stroke="#2a2a2a" stroke-width="0.2" textLength="349.00" lengthAdjust="spacingAndGlyphs">spectroscopy (EIS). Before the target molecule is hybridised, the resistance measured</text>
<text x="512" y="718" font-size="9.9" fill="#2a2a2a" stroke="#2a2a2a" stroke-width="0.2" textLength="161.00" lengthAdjust="spacingAndGlyphs">for the redox couple is small. When the</text>
<text x="512" y="729.25" font-size="9.9" fill="#2a2a2a" stroke="#2a2a2a" stroke-width="0.2" textLength="169.00" lengthAdjust="spacingAndGlyphs">correct target is hybridised the resistance,</text>
<text x="512" y="741" font-size="9.9" fill="#2a2a2a" stroke="#2a2a2a" stroke-width="0.2" textLength="188.00" lengthAdjust="spacingAndGlyphs">and therefore the EIS reponse, is much larger.</text>
<text x="352.75" y="829.5" font-size="8.5" fill="#2a2a2a" stroke="#2a2a2a" stroke-width="0.1" textLength="156.75" lengthAdjust="spacingAndGlyphs">EIS measurement of 50 nm electrode shows</text>
<text x="352.75" y="838.75" font-size="8.5" fill="#2a2a2a" stroke="#2a2a2a" stroke-width="0.1" textLength="151.75" lengthAdjust="spacingAndGlyphs">the increase in resistance upon addition of</text>
<text x="352.75" y="848.75" font-size="8.5" fill="#2a2a2a" stroke="#2a2a2a" stroke-width="0.1" textLength="80.00" lengthAdjust="spacingAndGlyphs">the target nucleic acid.</text>
<text x="612.5" y="761" font-size="8.5" fill="#2a2a2a" stroke="#2a2a2a" stroke-width="0.1" textLength="79.25" lengthAdjust="spacingAndGlyphs">Pre hybridisation - the</text>
<text x="612.5" y="771" font-size="8.5" fill="#2a2a2a" stroke="#2a2a2a" stroke-width="0.1" textLength="88.00" lengthAdjust="spacingAndGlyphs">redox species has access</text>
<text x="612.5" y="780.9" font-size="8.5" fill="#2a2a2a" stroke="#2a2a2a" stroke-width="0.1" textLength="58.90" lengthAdjust="spacingAndGlyphs">to the electrode.</text>
<text x="514.4" y="807.7" font-size="8.5" fill="#2a2a2a" stroke="#2a2a2a" stroke-width="0.1" textLength="83.50" lengthAdjust="spacingAndGlyphs">Post hybridisation - the</text>
<text x="514.4" y="817.2" font-size="8.5" fill="#2a2a2a" stroke="#2a2a2a" stroke-width="0.1" textLength="69.10" lengthAdjust="spacingAndGlyphs">access of the redox</text>
<text x="514.4" y="827.3" font-size="8.5" fill="#2a2a2a" stroke="#2a2a2a" stroke-width="0.1" textLength="87.00" lengthAdjust="spacingAndGlyphs">species is restricted, and</text>
<text x="514.4" y="837.4" font-size="8.5" fill="#2a2a2a" stroke="#2a2a2a" stroke-width="0.1" textLength="87.00" lengthAdjust="spacingAndGlyphs">so the resistance rises at</text>
<text x="514.4" y="847.4" font-size="8.5" fill="#2a2a2a" stroke="#2a2a2a" stroke-width="0.1" textLength="49.00" lengthAdjust="spacingAndGlyphs">the electrode.</text>
<text x="35.4" y="913" font-size="18.6" fill="#141414" textLength="83.70" lengthAdjust="spacingAndGlyphs">Objectives</text>
<text x="36.9" y="930.2" font-size="9.9" fill="#2a2a2a" stroke="#2a2a2a" stroke-width="0.2" textLength="272.20" lengthAdjust="spacingAndGlyphs">Having made the initial measurements, the next steps will include;</text>
<text x="76.9" y="947.4" font-size="9.9" fill="#2a2a2a" stroke="#2a2a2a" stroke-width="0.2" textLength="384.70" lengthAdjust="spacingAndGlyphs">complete fabrication of the combined system, including optimisation of nanoband and cavity</text>
<text x="76.9" y="957.4" font-size="9.9" fill="#2a2a2a" stroke="#2a2a2a" stroke-width="0.2" textLength="46.90" lengthAdjust="spacingAndGlyphs">dimensions</text>
<text x="76.9" y="973" font-size="9.9" fill="#2a2a2a" stroke="#2a2a2a" stroke-width="0.2" textLength="362.85" lengthAdjust="spacingAndGlyphs">further investigation of the sensitivity of nanoelectrodes for use in DNA sensing and the</text>
<text x="76.9" y="983.3" font-size="9.9" fill="#2a2a2a" stroke="#2a2a2a" stroke-width="0.2" textLength="275.00" lengthAdjust="spacingAndGlyphs">relationship between the response and concentration of the target</text>
<text x="76.9" y="998.9" font-size="9.9" fill="#2a2a2a" stroke="#2a2a2a" stroke-width="0.2" textLength="219.70" lengthAdjust="spacingAndGlyphs">optimisation of a galvanostatic silver plating protocol</text>
<text x="520.5" y="908" font-size="9.9" fill="#2a2a2a" stroke="#2a2a2a" stroke-width="0.2" textLength="63.70" lengthAdjust="spacingAndGlyphs">Many thanks to</text>
<text x="520.5" y="919.9" font-size="9.9" fill="#2a2a2a" stroke="#2a2a2a" stroke-width="0.2" textLength="85.90" lengthAdjust="spacingAndGlyphs">Dr Damion Corrigan,</text>
<text x="520.5" y="931.8" font-size="9.9" fill="#2a2a2a" stroke="#2a2a2a" stroke-width="0.2" textLength="62.90" lengthAdjust="spacingAndGlyphs">Ilka Schmueser,</text>
<text x="520.5" y="943.4" font-size="9.9" fill="#2a2a2a" stroke="#2a2a2a" stroke-width="0.2" textLength="61.80" lengthAdjust="spacingAndGlyphs">Professor Andy</text>
<text x="520.5" y="955.3" font-size="9.9" fill="#2a2a2a" stroke="#2a2a2a" stroke-width="0.2" textLength="76.20" lengthAdjust="spacingAndGlyphs">Mount, the Mount</text>
<text x="520.5" y="967" font-size="9.9" fill="#2a2a2a" stroke="#2a2a2a" stroke-width="0.2" textLength="81.20" lengthAdjust="spacingAndGlyphs">group and the SMC</text>
<text x="520.5" y="978.9" font-size="9.9" fill="#2a2a2a" stroke="#2a2a2a" stroke-width="0.2" textLength="79.80" lengthAdjust="spacingAndGlyphs">for their continuing</text>
<text x="520.5" y="990.5" font-size="9.9" fill="#2a2a2a" stroke="#2a2a2a" stroke-width="0.2" textLength="49.90" lengthAdjust="spacingAndGlyphs">support and</text>
<text x="520.5" y="1002.2" font-size="9.9" fill="#2a2a2a" stroke="#2a2a2a" stroke-width="0.2" textLength="39.60" lengthAdjust="spacingAndGlyphs">expertise.</text>
</g>
<text x="40" y="996" font-family="Liberation Sans" font-size="8" fill="#dcdcdc">blog</text>
</svg>
</body></html>
